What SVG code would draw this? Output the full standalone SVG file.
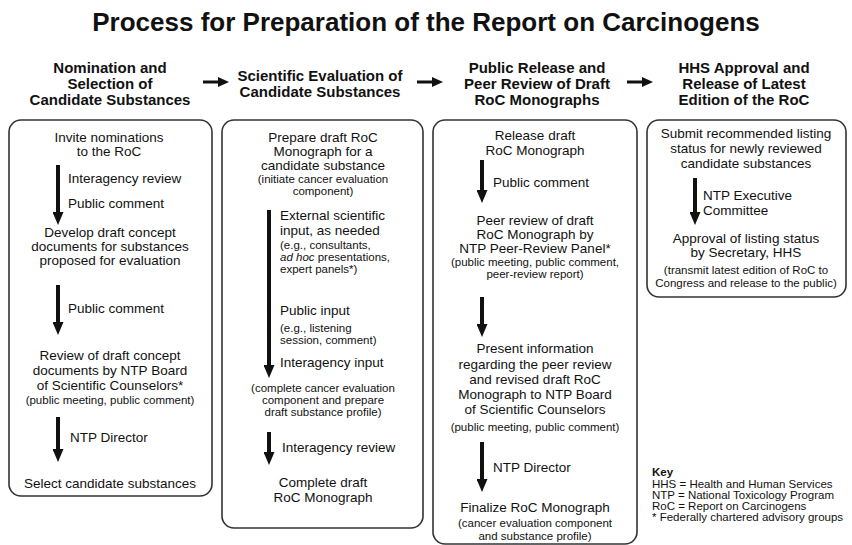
<svg xmlns="http://www.w3.org/2000/svg" width="852" height="545" viewBox="0 0 852 545">
<defs>
<style>
text{font-family:"Liberation Sans",Arial,Helvetica,sans-serif;fill:#111}
.t{font-size:26px;font-weight:bold;text-anchor:middle}
.h{font-size:15px;font-weight:bold;text-anchor:middle}
.m{font-size:13.5px;text-anchor:middle}
.l{font-size:13.5px}
.s{font-size:11.5px;text-anchor:middle}
.sl{font-size:11.5px}
.k{font-size:11.5px}
.box{fill:#fff;stroke:#333;stroke-width:1.6}
.sh{stroke:#111;stroke-width:4;fill:none}
.hs{stroke:#111;stroke-width:3;fill:none}
</style>
<marker id="ah" markerUnits="userSpaceOnUse" markerWidth="13" markerHeight="11" refX="3" refY="5.5" orient="auto" viewBox="0 0 13 11">
<path d="M0,0 L13,5.5 L0,11 Z" fill="#111"/>
</marker>
<marker id="hh" markerUnits="userSpaceOnUse" markerWidth="11" markerHeight="10" refX="2" refY="5" orient="auto" viewBox="0 0 11 10">
<path d="M0,0 L11,5 L0,10 Z" fill="#111"/>
</marker>
</defs>
<rect width="852" height="545" fill="#fff"/>
<g id="title"><text class="t" x="426" y="31">Process for Preparation of the Report on Carcinogens</text></g>

<g id="header-1"><text class="h" x="110" y="73">Nomination and</text><text class="h" x="110" y="89">Selection of</text><text class="h" x="110" y="105">Candidate Substances</text></g>
<g id="header-2"><text class="h" x="320" y="81">Scientific Evaluation of</text><text class="h" x="320" y="97">Candidate Substances</text></g>
<g id="header-3"><text class="h" x="537" y="73">Public Release and</text><text class="h" x="537" y="89">Peer Review of Draft</text><text class="h" x="537" y="105">RoC Monographs</text></g>
<g id="header-4"><text class="h" x="744" y="73">HHS Approval and</text><text class="h" x="744" y="89">Release of Latest</text><text class="h" x="744" y="105">Edition of the RoC</text></g>

<g id="box-nomination">
<rect class="box" x="9" y="120" width="203" height="376" rx="12"/>
<text class="m" x="109" y="142">Invite nominations</text>
<text class="m" x="109" y="156">to the RoC</text>
<text class="l" x="68" y="183">Interagency review</text>
<text class="l" x="68" y="208">Public comment</text>
<text class="m" x="110" y="237">Develop draft concept</text>
<text class="m" x="110" y="251">documents for substances</text>
<text class="m" x="110" y="265">proposed for evaluation</text>
<text class="l" x="68" y="313">Public comment</text>
<text class="m" x="110" y="360">Review of draft concept</text>
<text class="m" x="110" y="375">documents by NTP Board</text>
<text class="m" x="110" y="390">of Scientific Counselors*</text>
<text class="s" x="110" y="404">(public meeting, public comment)</text>
<text class="l" x="70" y="442">NTP Director</text>
<text class="m" x="110" y="488">Select candidate substances</text>
</g>

<g id="box-evaluation">
<rect class="box" x="222" y="120" width="201" height="408" rx="12"/>
<text class="m" x="323" y="142">Prepare draft RoC</text>
<text class="m" x="323" y="156">Monograph for a</text>
<text class="m" x="323" y="170">candidate substance</text>
<text class="s" x="323" y="183">(initiate cancer evaluation</text>
<text class="s" x="323" y="195">component)</text>
<text class="l" x="280" y="220">External scientific</text>
<text class="l" x="280" y="235">input, as needed</text>
<text class="sl" x="280" y="249">(e.g., consultants,</text>
<text class="sl" x="280" y="261"><tspan font-style="italic">ad hoc</tspan> presentations,</text>
<text class="sl" x="280" y="273">expert panels*)</text>
<text class="l" x="280" y="315">Public input</text>
<text class="sl" x="280" y="332">(e.g., listening</text>
<text class="sl" x="280" y="344">session, comment)</text>
<text class="l" x="280" y="367">Interagency input</text>
<text class="s" x="323" y="392">(complete cancer evaluation</text>
<text class="s" x="323" y="404">component and prepare</text>
<text class="s" x="323" y="416">draft substance profile)</text>
<text class="l" x="282" y="452">Interagency review</text>
<text class="m" x="323" y="487">Complete draft</text>
<text class="m" x="323" y="502">RoC Monograph</text>
</g>

<g id="box-peer-review">
<rect class="box" x="433" y="120" width="204" height="424" rx="12"/>
<text class="m" x="535" y="140">Release draft</text>
<text class="m" x="535" y="155">RoC Monograph</text>
<text class="l" x="493" y="187">Public comment</text>
<text class="m" x="535" y="225">Peer review of draft</text>
<text class="m" x="535" y="239">RoC Monograph by</text>
<text class="m" x="535" y="253">NTP Peer-Review Panel*</text>
<text class="s" x="535" y="266">(public meeting, public comment,</text>
<text class="s" x="535" y="278">peer-review report)</text>
<text class="m" x="535" y="353">Present information</text>
<text class="m" x="535" y="369">regarding the peer review</text>
<text class="m" x="535" y="384">and revised draft RoC</text>
<text class="m" x="535" y="399">Monograph to NTP Board</text>
<text class="m" x="535" y="414">of Scientific Counselors</text>
<text class="s" x="535" y="431">(public meeting, public comment)</text>
<text class="l" x="493" y="472">NTP Director</text>
<text class="m" x="535" y="512">Finalize RoC Monograph</text>
<text class="s" x="535" y="527">(cancer evaluation component</text>
<text class="s" x="535" y="540">and substance profile)</text>
</g>

<g id="box-approval">
<rect class="box" x="647" y="120" width="199" height="177" rx="12"/>
<text class="m" x="746" y="138">Submit recommended listing</text>
<text class="m" x="746" y="153">status for newly reviewed</text>
<text class="m" x="746" y="168">candidate substances</text>
<text class="l" x="703" y="200">NTP Executive</text>
<text class="l" x="703" y="215">Committee</text>
<text class="m" x="746" y="243">Approval of listing status</text>
<text class="m" x="746" y="257">by Secretary, HHS</text>
<text class="s" x="746" y="274">(transmit latest edition of RoC to</text>
<text class="s" x="746" y="287">Congress and release to the public)</text>
</g>

<g id="key">
<text class="k" x="652" y="476" font-weight="bold">Key</text>
<text class="k" x="652" y="488">HHS = Health and Human Services</text>
<text class="k" x="652" y="499">NTP = National Toxicology Program</text>
<text class="k" x="652" y="510">RoC = Report on Carcinogens</text>
<text class="k" x="652" y="521">* Federally chartered advisory groups</text>
</g>

<g id="connectors">
<line class="hs" x1="203" y1="82" x2="220" y2="82" marker-end="url(#hh)"/>
<line class="hs" x1="417" y1="82" x2="434" y2="82" marker-end="url(#hh)"/>
<line class="hs" x1="627" y1="82" x2="644" y2="82" marker-end="url(#hh)"/>
<line class="sh" x1="58" y1="165" x2="58" y2="215" marker-end="url(#ah)"/>
<line class="sh" x1="58" y1="285" x2="58" y2="325" marker-end="url(#ah)"/>
<line class="sh" x1="58" y1="417" x2="58" y2="452" marker-end="url(#ah)"/>
<line class="sh" x1="269" y1="210" x2="269" y2="368" marker-end="url(#ah)"/>
<line class="sh" x1="269" y1="432" x2="269" y2="455" marker-end="url(#ah)"/>
<line class="sh" x1="482" y1="160" x2="482" y2="193" marker-end="url(#ah)"/>
<line class="sh" x1="482" y1="297" x2="482" y2="327" marker-end="url(#ah)"/>
<line class="sh" x1="482" y1="442" x2="482" y2="482" marker-end="url(#ah)"/>
<line class="sh" x1="695" y1="178" x2="695" y2="215" marker-end="url(#ah)"/>
</g>
</svg>
